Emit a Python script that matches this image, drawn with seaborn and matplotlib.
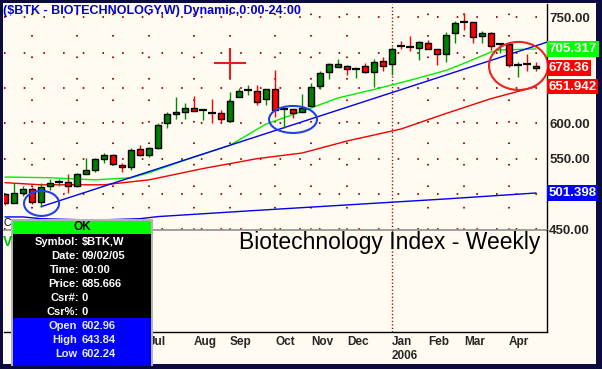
import matplotlib.pyplot as plt
from matplotlib.patches import Rectangle, Ellipse
import seaborn as sns
import pandas as pd
import numpy as np

sns.set_style('white')
plt.rcParams['font.family'] = ['Liberation Sans', 'DejaVu Sans']

# weekly bars ($BTK), friday dates
dates = pd.date_range('2005-03-11', periods=60, freq='W-FRI')

opens = [500, 487, 501, 507, 489, 511, 516, 517, 511, 528,
         534, 550, 555, 541, 538, 563, 555, 565, 601, 613,
         616, 622, 618, 615.5, 614, 602.96, 637, 647, 646, 634,
         648, 619.5, 620, 616, 625, 653, 673, 680, 681, 677,
         681, 673, 688, 684, 710, 709, 707, 714, 705, 698,
         728, 744, 743, 724, 728, 712, 712, 683, 684, 681]
highs = [502, 516, 511, 510, 516, 521, 521, 528, 530, 551,
         551, 558, 556, 544, 565, 569, 566, 601, 616, 637,
         629, 639, 619, 635, 619, 643.84, 650, 654, 654, 648,
         675, 620, 621, 641, 657, 674, 686, 691, 682, 680,
         686, 691, 694, 708, 716, 724, 716, 718, 705, 729,
         745, 756, 744, 731, 729, 713, 713, 687, 698, 687]
lows = [485, 487, 497, 486, 482, 506, 511, 501, 510, 528,
        531, 544, 541, 531, 534, 554, 552, 563, 593, 606,
        606, 617, 605, 600, 602, 602.24, 637, 640, 626, 626,
        609, 593, 608, 616, 625, 649, 663, 680, 669, 664,
        672, 651, 674, 669, 705, 703, 690, 705, 683, 687,
        714, 732, 714, 714, 704, 700, 680, 666, 674, 674]
closes = [487, 501, 507, 489, 510, 516, 516.4, 511, 528, 534,
          550, 555, 542, 538, 562, 555, 565, 598, 613, 616,
          622, 618, 618.3, 614.5, 606, 632, 646, 647.3, 630, 648,
          619, 620, 614, 622, 651, 671, 684, 684, 677, 677.3,
          673, 687, 681, 705, 709.5, 708.5, 715, 705, 698, 725,
          742, 743.5, 722, 728, 710, 712.4, 683, 683.3, 683.6, 678.36]

# moving averages (week index, value)
green_x = [0, 5, 10, 14, 16, 20, 25, 29, 33, 37, 41, 45, 49, 51, 54, 55, 59]
green_y = [524, 523, 520, 523, 530, 548, 569, 599, 617, 636, 648, 661, 675, 685, 701, 704, 705.317]
red_x = [0, 4, 11, 16, 22, 28, 33, 38, 44, 49, 54, 59]
red_y = [516, 513, 513, 520, 536, 550, 558, 575, 592, 614, 635, 651.942]
blue_x = [0, 2, 4, 10, 15, 17, 27, 38, 49, 59]
blue_y = [467.5, 467.5, 465, 463, 465, 468, 476, 484.5, 493, 501.398]
# drawn trendline
trend_x = [4, 60.3]
trend_y = [482, 715.3]

price_ticks = [450, 500, 550, 600, 650, 700, 750]
# labels hidden under the value boxes in the original
hidden_ticks = [500, 650, 700]

info_labels = ['Symbol:', 'Date:', 'Time:', 'Price:', 'Csr#:', 'Csr%:']
info_values = ['$BTK,W', '09/02/05', '00:00', '685.666', '0', '0']
ohl_labels = ['Open', 'High', 'Low']
ohl_values = ['602.96', '643.84', '602.24']

W, H = 602, 369
NAVY = '#0b0b3d'
CREAM = '#fffbf0'
GRID = '#9a0000'

fig = plt.figure(figsize=(W / 100, H / 100), dpi=100, facecolor=NAVY)

ax_bg = fig.add_axes([3 / W, 1 - 364 / H, 593 / W, 361 / H], zorder=0)
ax_bg.set_facecolor(CREAM)
ax_bg.set_xticks([]); ax_bg.set_yticks([])
for s in ax_bg.spines.values():
    s.set_visible(False)

ax = fig.add_axes([4 / W, 1 - 230 / H, 543 / W, 226 / H], zorder=1)
ax_lo = fig.add_axes([4 / W, 1 - 332 / H, 543 / W, 102 / H], zorder=1, sharex=ax)
for a in (ax, ax_lo):
    a.set_facecolor('none')
    for s in a.spines.values():
        s.set_visible(False)
    a.spines['right'].set_visible(True)
    a.spines['right'].set_color('black')
    a.spines['right'].set_linewidth(1.0)

ax.spines['bottom'].set_visible(True)
ax.spines['bottom'].set_color('#909090')
ax.spines['bottom'].set_linewidth(1.2)
ax_lo.spines['bottom'].set_visible(True)
ax_lo.spines['bottom'].set_color('black')
ax_lo.spines['bottom'].set_linewidth(1.0)

ax.set_xlim(-0.111, 60.222)
ax.set_ylim(449, 769)
ax_lo.set_ylim(0, 1)
ax_lo.set_yticks([])

# month ticks at first bar of each month
tick_idx = [i for i in range(1, len(dates)) if dates[i].month != dates[i - 1].month]
tick_lab = [dates[i].strftime('%b') + ('\n%d' % dates[i].year if dates[i].month == 1 else '')
            for i in tick_idx]
# the info box covers the first month labels
tick_lab = [t if tick_idx[k] >= 15 else '' for k, t in enumerate(tick_lab)]
year_idx = [i for i in tick_idx if dates[i].month == 1]

# dotted grid
for p in price_ticks:
    ax.axhline(p, color=GRID, lw=1.3, ls=(0, (0.9, 10)), zorder=0.5)
for i in tick_idx:
    if i not in year_idx:
        ax.axvline(i, color=GRID, lw=1.3, ls=(0, (0.9, 11)), zorder=0.5)
for i in year_idx:
    for a in (ax, ax_lo):
        a.axvline(i, color=GRID, lw=1.0, ls=(0, (0.9, 1.6)), zorder=0.5)

# moving averages + trendline
sns.lineplot(x=blue_x, y=blue_y, ax=ax, color='#0000ee', lw=1.0, sort=False, estimator=None, zorder=2)
sns.lineplot(x=red_x, y=red_y, ax=ax, color='#ee0000', lw=1.0, sort=False, estimator=None, zorder=2)
sns.lineplot(x=green_x, y=green_y, ax=ax, color='#00ee00', lw=1.0, sort=False, estimator=None, zorder=2)
sns.lineplot(x=trend_x, y=trend_y, ax=ax, color='#0000ee', lw=1.0, sort=False, estimator=None, zorder=2)

# candles
xs = np.arange(len(dates))
o = np.array(opens); h = np.array(highs); l = np.array(lows); c = np.array(closes)
up = c >= o
col = np.where(up, '#008000', '#ff0000')
doji = np.abs(c - o) < 1.2
ax.vlines(xs, l, h, colors=np.where(up, '#008a00', '#ff0000'), lw=1.0, zorder=3)
body = ~doji
ax.bar(xs[body], np.abs(c - o)[body], bottom=np.minimum(o, c)[body], width=0.74,
       color=col[body], edgecolor='black', linewidth=1.0, zorder=4)
ax.hlines(c[doji], xs[doji] - 0.4, xs[doji] + 0.4, colors='black', lw=1.6, zorder=4)

# circles and cursor
ax.add_patch(Ellipse((4.06, 486.6), 3.9, 35.4, fill=False, ec='#2040e8', lw=1.5, zorder=5))
ax.add_patch(Ellipse((32.0, 605.5), 5.33, 38.2, fill=False, ec='#2040e8', lw=1.5, zorder=5))
ax.add_patch(Ellipse((57.06, 681.3), 6.56, 68.0, fill=False, ec='#ee2020', lw=1.5, zorder=5))
ax.hlines(685.666, 25 - 1.78, 25 + 1.78, colors='#e02020', lw=1.5, zorder=5)
ax.vlines(25, 685.666 - 21, 685.666 + 21, colors='#e02020', lw=1.5, zorder=5)

# right price axis
ax.yaxis.tick_right()
ax.set_yticks(price_ticks)
ax.set_yticklabels(['' if p in hidden_ticks else '%.2f' % p for p in price_ticks],
                   fontweight='bold', fontsize=9.5)
ax.tick_params(axis='y', length=0, pad=1.5)
ax.tick_params(axis='x', length=0, labelbottom=False)
ax.set_xlabel(''); ax.set_ylabel('')

last_vals = [('%.3f' % green_y[-1], green_y[-1], '#00ff00'),
             ('%.2f' % closes[-1], closes[-1], '#ff0000'),
             ('%.3f' % red_y[-1], red_y[-1], '#ff0000'),
             ('%.3f' % blue_y[-1], blue_y[-1], '#0000ff')]
for txt, v, fc in last_vals:
    ax.annotate(txt, xy=(1.0, v), xycoords=('axes fraction', 'data'), xytext=(1.2, 0),
                textcoords='offset points', ha='left', va='center', color='white',
                fontweight='bold', fontsize=9.5, annotation_clip=False, zorder=10,
                bbox=dict(boxstyle='square,pad=0.12', fc=fc, ec='none'))

# bottom date axis
ax_lo.set_xticks(tick_idx)
labs = ax_lo.set_xticklabels(tick_lab, ha='left', fontweight='bold', fontsize=8.5)
for t in labs:
    t.set_linespacing(1.2)
ax_lo.tick_params(axis='x', direction='in', length=3, width=1, color=GRID, pad=3)
ax_lo.text(0.987, 0.873, 'Biotechnology Index - Weekly', transform=ax_lo.transAxes,
           ha='right', va='center', fontsize=16.5, color='black')

# overlay: title and info box in pixel space
ov = fig.add_axes([0, 0, 1, 1], zorder=5)
ov.set_xlim(0, W); ov.set_ylim(H, 0)
ov.set_axis_off()
ov.text(3, 11, '($BTK - BIOTECHNOLOGY,W) Dynamic,0:00-24:00', color='#0000d0',
        fontweight='bold', fontsize=9, va='center', ha='left')
ov.text(4, 223, 'C', color='black', fontsize=7.5, va='center', ha='left')
ov.text(3, 241.5, 'V', color='#00c000', fontsize=10, fontweight='bold', va='center', ha='left')

ov.add_patch(Rectangle((11, 219), 142, 147, fc='#b4b4b4', ec='none'))
ov.add_patch(Rectangle((13, 221), 138, 13, fc='#00ff00', ec='none'))
ov.add_patch(Rectangle((13, 234), 138, 84, fc='black', ec='none'))
ov.add_patch(Rectangle((13, 318), 138, 48, fc='#0000ff', ec='none'))
ov.text(82, 227.5, 'OK', color='black', fontweight='bold', fontsize=8.5, ha='center', va='center')
for k, (lab, val) in enumerate(zip(info_labels, info_values)):
    y = 242 + 14 * k
    ov.text(79, y, lab, color='white', fontweight='bold', fontsize=8, ha='right', va='center')
    ov.text(82, y, val, color='white', fontweight='bold', fontsize=8, ha='left', va='center')
for k, (lab, val) in enumerate(zip(ohl_labels, ohl_values)):
    y = 326 + 14 * k
    ov.text(77, y, lab, color='#e4ecff', fontweight='bold', fontsize=8, ha='right', va='center')
    ov.text(82, y, val, color='#e4ecff', fontweight='bold', fontsize=8, ha='left', va='center')

fig.savefig('out.png', dpi=100, facecolor=fig.get_facecolor())
